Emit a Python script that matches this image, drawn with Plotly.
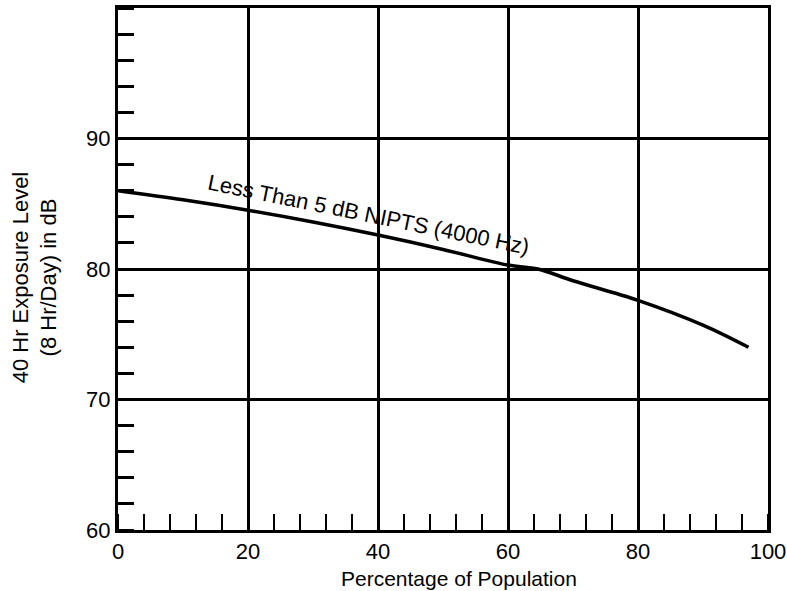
import plotly.graph_objects as go

# Data
pct_population = [0, 10, 20, 30, 40, 50, 60, 64.6, 70, 80, 90, 97]
exposure_level = [86.0, 85.3, 84.5, 83.6, 82.6, 81.5, 80.3, 80.0, 79.1, 77.6, 75.7, 74.0]

x_ticks = [0, 20, 40, 60, 80, 100]
y_ticks = [60, 70, 80, 90]
curve_label = "Less Than 5 dB NIPTS (4000 Hz)"
x_title = "Percentage of Population"
y_title = "40 Hr Exposure Level<br>(8 Hr/Day) in dB"

FONT = "Liberation Sans, Arial, sans-serif"

fig = go.Figure()
fig.add_trace(go.Scatter(
    x=pct_population, y=exposure_level, mode="lines",
    line=dict(color="black", width=3.5, shape="spline"),
    showlegend=False, hoverinfo="skip",
))

fig.add_annotation(
    x=38.5, y=84.2, xref="x", yref="y", text=curve_label, showarrow=False,
    textangle=11.5, font=dict(family=FONT, size=22, color="black"),
)
fig.add_annotation(
    x=0.524, y=-0.092, xref="paper", yref="paper", text=x_title, showarrow=False,
    xanchor="center", yanchor="middle",
    font=dict(family=FONT, size=21, color="black"),
)
fig.add_annotation(
    x=-0.1285, y=0.485, xref="paper", yref="paper", text=y_title, showarrow=False,
    xanchor="center", yanchor="middle", textangle=-90,
    font=dict(family=FONT, size=22, color="black"),
)

fig.update_xaxes(
    range=[0, 100], tickvals=x_ticks, ticktext=[str(v) for v in x_ticks],
    showgrid=True, gridcolor="black", gridwidth=2.5,
    showline=True, linecolor="black", linewidth=3, mirror=True,
    ticks="", zeroline=False, automargin=False,
    tickfont=dict(family=FONT, size=22, color="black"),
    minor=dict(dtick=4, ticks="inside", ticklen=16, tickwidth=2, tickcolor="black", showgrid=False),
)
fig.update_yaxes(
    range=[60, 100], tickvals=y_ticks, ticktext=[str(v) for v in y_ticks],
    showgrid=True, gridcolor="black", gridwidth=2.5,
    showline=True, linecolor="black", linewidth=3, mirror=True,
    ticks="", zeroline=False, automargin=False,
    tickfont=dict(family=FONT, size=22, color="black"),
    minor=dict(dtick=2, ticks="inside", ticklen=16, tickwidth=2.5, tickcolor="black", showgrid=False),
)

fig.update_layout(
    width=787, height=591,
    margin=dict(l=118, r=19, t=8, b=61),
    paper_bgcolor="white", plot_bgcolor="white",
)

# Remove the page's default body margin so the figure fills the window exactly.
fig.write_html(
    "out.html",
    config={"displayModeBar": False},
    post_script="document.body.style.margin='0';document.body.style.overflow='hidden';",
)
